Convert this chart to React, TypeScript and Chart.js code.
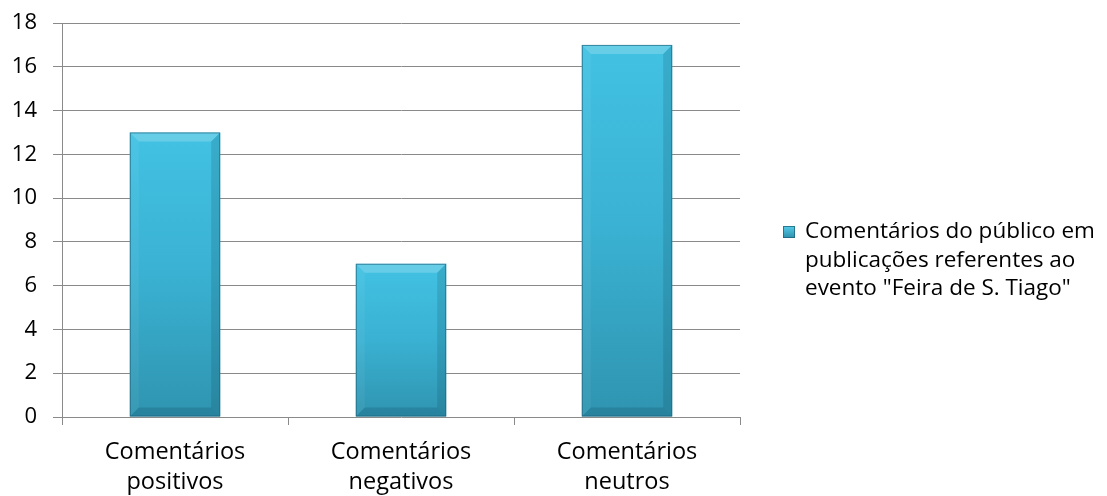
import React, { useEffect, useRef } from 'react';
import { Chart, registerables } from 'chart.js';

Chart.register(...registerables);

const categories: string[][] = [
  ['Comentários', 'positivos'],
  ['Comentários', 'negativos'],
  ['Comentários', 'neutros'],
];
const values: number[] = [13, 7, 17];
const seriesLabelLines: string[] = [
  'Comentários do público em',
  'publicações referentes ao',
  'evento "Feira de S. Tiago"',
];
const yMin = 0;
const yMax = 18;
const yStep = 2;

const FONT = '"Open Sans", "Noto Sans", sans-serif';
const GRID = '#8a8a8a';

const bevelPlugin = {
  id: 'bevel',
  afterDatasetsDraw(chart: any) {
    const ctx = chart.ctx;
    const meta = chart.getDatasetMeta(0);
    meta.data.forEach((bar: any) => {
      const { x, y, base, width } = bar.getProps(['x', 'y', 'base', 'width'], true);
      if (![x, y, base, width].every((v) => Number.isFinite(v))) return;
      const l = x - width / 2;
      const r = x + width / 2;
      const t = Math.min(y, base);
      const b = Math.max(y, base);
      const d = 9;
      ctx.save();
      ctx.fillStyle = 'rgba(255,255,255,0.2)';
      ctx.beginPath();
      ctx.moveTo(l, t);
      ctx.lineTo(r, t);
      ctx.lineTo(r - d, t + d);
      ctx.lineTo(l + d, t + d);
      ctx.closePath();
      ctx.fill();
      ctx.fillStyle = 'rgba(255,255,255,0.05)';
      ctx.beginPath();
      ctx.moveTo(l, t);
      ctx.lineTo(l + d, t + d);
      ctx.lineTo(l + d, b - d);
      ctx.lineTo(l, b);
      ctx.closePath();
      ctx.fill();
      ctx.fillStyle = 'rgba(0,40,60,0.14)';
      ctx.beginPath();
      ctx.moveTo(r, t);
      ctx.lineTo(r - d, t + d);
      ctx.lineTo(r - d, b - d);
      ctx.lineTo(r, b);
      ctx.closePath();
      ctx.fill();
      ctx.fillStyle = 'rgba(0,40,60,0.16)';
      ctx.beginPath();
      ctx.moveTo(l, b);
      ctx.lineTo(l + d, b - d);
      ctx.lineTo(r - d, b - d);
      ctx.lineTo(r, b);
      ctx.closePath();
      ctx.fill();
      ctx.strokeStyle = 'rgba(30,100,125,0.7)';
      ctx.lineWidth = 1;
      ctx.strokeRect(l + 0.5, t + 0.5, width - 1, b - t - 1);
      ctx.restore();
    });
  },
};

const legendPlugin = {
  id: 'customLegend',
  afterDraw(chart: any) {
    const ctx = chart.ctx;
    const x0 = 783;
    const lineH = 28.5;
    const firstCenter = 232;
    const size = 12;
    ctx.save();
    const g = ctx.createLinearGradient(0, firstCenter - size / 2, 0, firstCenter + size / 2);
    g.addColorStop(0, '#55cdea');
    g.addColorStop(1, '#2e90ab');
    ctx.fillStyle = g;
    ctx.fillRect(x0, firstCenter - size / 2, size, size);
    ctx.strokeStyle = 'rgba(30,100,125,0.8)';
    ctx.lineWidth = 1;
    ctx.strokeRect(x0 + 0.5, firstCenter - size / 2 + 0.5, size - 1, size - 1);
    ctx.fillStyle = '#000';
    ctx.font = `22.5px ${FONT}`;
    ctx.textBaseline = 'middle';
    ctx.textAlign = 'left';
    seriesLabelLines.forEach((line, i) => {
      ctx.fillText(line, 805, firstCenter + i * lineH);
    });
    ctx.restore();
  },
};

export default function App() {
  const canvasRef = useRef<HTMLCanvasElement | null>(null);

  useEffect(() => {
    document.body.style.margin = '0';
    const canvas = canvasRef.current;
    if (!canvas) return;
    const chart = new Chart(canvas, {
      type: 'bar',
      data: {
        labels: categories,
        datasets: [
          {
            label: seriesLabelLines.join(' '),
            data: values,
            backgroundColor: (c: any) => {
              const ch = c.chart;
              const ys = ch.scales && ch.scales.y;
              if (!ys || c.raw === undefined) return '#3cb5d6';
              const top = ys.getPixelForValue(c.raw);
              const bottom = ys.getPixelForValue(0);
              if (!Number.isFinite(top) || !Number.isFinite(bottom) || top === bottom) return '#3cb5d6';
              const g = ch.ctx.createLinearGradient(0, top, 0, bottom);
              g.addColorStop(0, '#42c2e3');
              g.addColorStop(0.5, '#3ab1d2');
              g.addColorStop(1, '#2f94b0');
              return g;
            },
            borderWidth: 0,
            categoryPercentage: 1,
            barPercentage: 0.4,
          },
        ],
      },
      options: {
        animation: false,
        responsive: true,
        maintainAspectRatio: false,
        layout: { padding: { top: 23, right: 367, left: 0, bottom: 0 } },
        plugins: {
          legend: { display: false },
          tooltip: { enabled: false },
        },
        scales: {
          x: {
            offset: true,
            grid: {
              display: true,
              drawOnChartArea: false,
              drawTicks: true,
              tickLength: 8,
              color: GRID,
              offset: true,
            },
            border: { display: false },
            ticks: {
              color: '#000',
              font: { family: FONT, size: 23.5, lineHeight: 1.26 },
              padding: 13,
              maxRotation: 0,
              autoSkip: false,
            },
            afterFit: (s: any) => {
              s.height = 79;
              s.paddingLeft = 0;
              s.paddingRight = 0;
            },
          },
          y: {
            min: yMin,
            max: yMax,
            ticks: {
              stepSize: yStep,
              color: '#000',
              font: { family: FONT, size: 22 },
              padding: 16,
            },
            grid: { color: GRID, tickLength: 9, lineWidth: 1 },
            border: { display: true, color: GRID },
            afterFit: (s: any) => {
              s.width = 62;
              s.paddingTop = 0;
              s.paddingBottom = 0;
            },
          },
        },
      },
      plugins: [bevelPlugin, legendPlugin],
    });
    return () => chart.destroy();
  }, []);

  return (
    <div style={{ position: 'relative', width: 1107, height: 496 }}>
      <canvas ref={canvasRef} />
    </div>
  );
}
